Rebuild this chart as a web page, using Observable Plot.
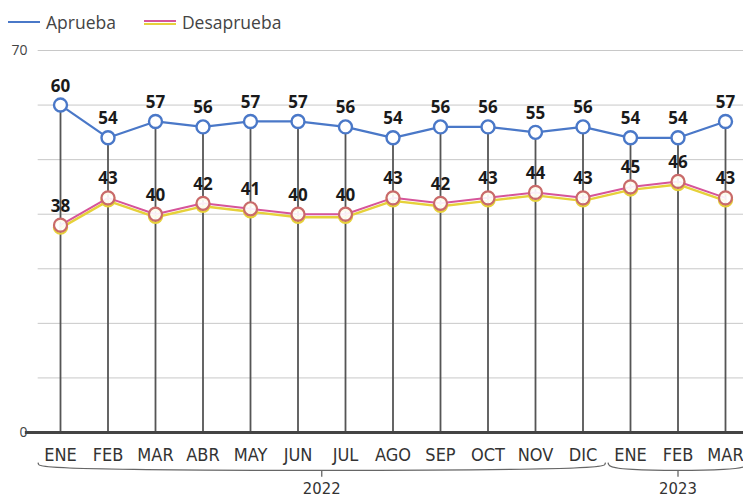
<!DOCTYPE html>
<html><head><meta charset="utf-8">
<script src="https://cdn.jsdelivr.net/npm/d3@7"></script>
<script src="https://cdn.jsdelivr.net/npm/@observablehq/plot@0.6"></script>
<style>
body{margin:0;background:#fff;font-family:"Open Sans",sans-serif;}
#legend{height:40px;display:flex;align-items:center;font-size:17.5px;color:#444;padding-left:8px;box-sizing:border-box;padding-top:3px}
.item{display:flex;align-items:center;margin-right:28px}
.sw{width:32px;height:8px;position:relative;margin-right:6px}
.sw span{position:absolute;left:0;right:0;height:2.5px}
</style></head><body>
<div id="legend">
 <div class="item"><div class="sw"><span style="top:3px;background:#4a78c8"></span></div>Aprueba</div>
 <div class="item"><div class="sw"><span style="top:5px;background:#e6d13a"></span><span style="top:2px;background:#d6559a"></span></div>Desaprueba</div>
</div>
<div id="chart"></div>
<script>
const months = ["ENE","FEB","MAR","ABR","MAY","JUN","JUL","AGO","SEP","OCT","NOV","DIC","ENE","FEB","MAR"];
const aprueba = [60,54,57,56,57,57,56,54,56,56,55,56,54,54,57];
const desaprueba = [38,43,40,42,41,40,40,43,42,43,44,43,45,46,43];
const years = [{year:"2022", start:0, end:11}, {year:"2023", start:12, end:14}];
const grid = [10,20,30,40,50,60,70];
const yLabels = [0,70];

const A = aprueba.map((v,i)=>({i,v}));
const D = desaprueba.map((v,i)=>({i,v}));
const blue="#4a78c8", pink="#d6559a", yellow="#e6d13a";
const narrow = "'Liberation Sans Narrow','DejaVu Sans Condensed',sans-serif";

const brackets = [];
years.forEach(y=>{
  const a=y.start-0.47, b=y.end+0.47, yb=-7, yc=-5.6;
  brackets.push({y:y.year, pts:[[a,yc],[a+0.05,yb],[b-0.05,yb],[b,yc]]});
});
const bracketPts = brackets.flatMap(b=>b.pts.map(p=>({g:b.y,x:p[0],y:p[1]})));
const mid = years.map(y=>({year:y.year, x:(y.start+y.end)/2}));

const chart = Plot.plot({
  width:743, height:460,
  marginTop:10, marginBottom:68, marginLeft:60, marginRight:18,
  x:{domain:[0,14], axis:null},
  y:{domain:[0,70], axis:null},
  style:{fontFamily:"'Open Sans',sans-serif", overflow:"visible"},
  marks:[
    Plot.ruleY(grid, {y:d=>d, x1:-0.47, x2:14.4, stroke:"#c8c8c8", strokeWidth:1}),
    Plot.ruleX(A, {x:"i", y1:0, y2:"v", stroke:"#555", strokeWidth:1.8}),
    Plot.ruleY([0], {x1:-0.74, x2:14.4, stroke:"#444", strokeWidth:3}),
    Plot.text(yLabels, {y:d=>d, frameAnchor:"left", dx:-33, textAnchor:"end", text:d=>String(d), fontSize:14, fill:"#444"}),
    Plot.text(months, {x:(d,i)=>i, y:0, text:d=>d, dy:23, fontSize:18, fill:"#333", fontFamily:narrow}),
    Plot.line(bracketPts, {x:"x", y:"y", z:"g", stroke:"#666", strokeWidth:1.3, curve:"basis"}),
    Plot.ruleX(mid, {x:"x", y1:-7, y2:-8.2, stroke:"#666", strokeWidth:1.3}),
    Plot.text(mid, {x:"x", y:-7, text:"year", dy:18, fontSize:16.5, fill:"#333", fontFamily:narrow}),
    // Aprueba
    Plot.line(A, {x:"i", y:"v", stroke:blue, strokeWidth:2.2}),
    Plot.dot(A, {x:"i", y:"v", r:6.5, fill:"white", stroke:blue, strokeWidth:2.4}),
    Plot.text(A, {x:"i", y:"v", text:d=>String(d.v), dy:-19, fontSize:17, fontWeight:"bold", fill:"#1a1a1a"}),
    // Desaprueba
    Plot.line(D, {x:"i", y:"v", stroke:yellow, strokeWidth:2.4, dy:3}),
    Plot.dot(D, {x:"i", y:"v", r:6.5, fill:"none", stroke:yellow, strokeWidth:2.4, dy:2}),
    Plot.line(D, {x:"i", y:"v", stroke:pink, strokeWidth:2}),
    Plot.dot(D, {x:"i", y:"v", r:6.5, fill:"white", fillOpacity:0.9, stroke:"#c96a6a", strokeWidth:2.2}),
    Plot.text(D, {x:"i", y:"v", text:d=>String(d.v), dy:-19, fontSize:17, fontWeight:"bold", fill:"#1a1a1a"})
  ]
});
document.getElementById("chart").appendChild(chart);
</script>
</body></html>
